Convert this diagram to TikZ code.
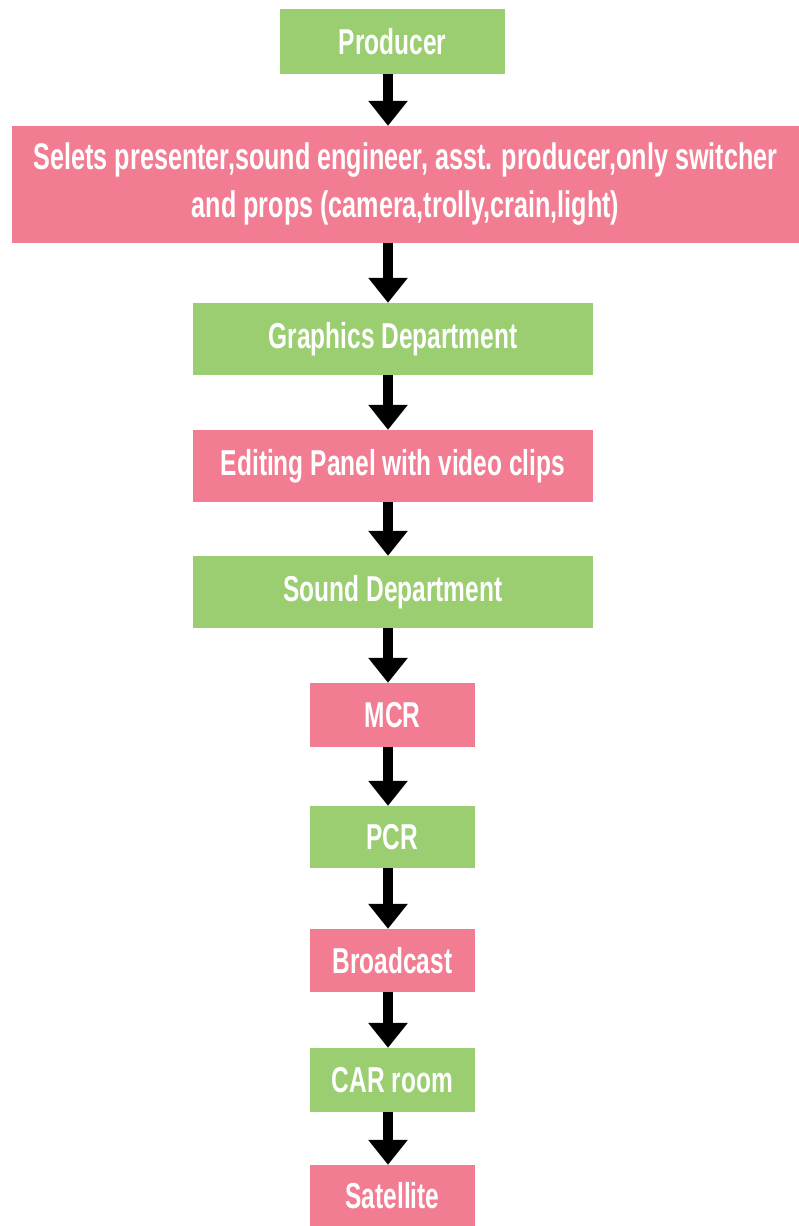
\documentclass[tikz,border=0pt]{standalone}
\usepackage{fontspec}
\setmainfont{Liberation Sans}[FakeStretch=0.68]
\usetikzlibrary{arrows.meta}
\definecolor{boxgreen}{RGB}{154,206,112}
\definecolor{boxpink}{RGB}{242,125,147}
\tikzset{
  box/.style={inner sep=0pt, text=white, font=\fontsize{36}{48}\selectfont\bfseries, align=center},
  gbox/.style={box, fill=boxgreen},
  pbox/.style={box, fill=boxpink},
  arr/.style={line width=10pt, -{Triangle[width=38pt,length=25pt]}}
}
\begin{document}
\begin{tikzpicture}[x=1pt,y=1pt]
\useasboundingbox (0,0) rectangle (799,-1226);
\node[gbox, minimum width=225pt, minimum height=65pt] (prod) at (392.5,-41.5) {Producer};
\node[pbox, minimum width=787pt, minimum height=117pt, font=\fontsize{37}{48}\selectfont\bfseries] (sel) at (405.5,-184.5) {Selets presenter,sound engineer, asst. producer,only switcher\\and props (camera,trolly,crain,light)};
\node[gbox, minimum width=400pt, minimum height=72pt] (gfx) at (393,-339) {Graphics Department};
\node[pbox, minimum width=400pt, minimum height=72pt] (edit) at (393,-466) {Editing Panel with video clips};
\node[gbox, minimum width=400pt, minimum height=72pt] (sound) at (393,-592) {Sound Department};
\node[pbox, minimum width=165pt, minimum height=64pt] (mcr) at (392.5,-715) {MCR};
\node[gbox, minimum width=165pt, minimum height=62pt] (pcr) at (392.5,-837) {PCR};
\node[pbox, minimum width=165pt, minimum height=63pt] (bc) at (392.5,-960.5) {Broadcast};
\node[gbox, minimum width=165pt, minimum height=64pt] (car) at (392.5,-1080) {CAR room};
\node[pbox, minimum width=165pt, minimum height=61pt] (sat) at (392.5,-1195.5) {Satellite};
\coordinate (ax) at (388,0);
\draw[arr] (prod.south -| ax) -- (sel.north -| ax);
\draw[arr] (sel.south -| ax) -- (gfx.north -| ax);
\draw[arr] (gfx.south -| ax) -- (edit.north -| ax);
\draw[arr] (edit.south -| ax) -- (sound.north -| ax);
\draw[arr] (sound.south -| ax) -- (mcr.north -| ax);
\draw[arr] (mcr.south -| ax) -- (pcr.north -| ax);
\draw[arr] (pcr.south -| ax) -- (bc.north -| ax);
\draw[arr] (bc.south -| ax) -- (car.north -| ax);
\draw[arr] (car.south -| ax) -- (sat.north -| ax);
\end{tikzpicture}
\end{document}
